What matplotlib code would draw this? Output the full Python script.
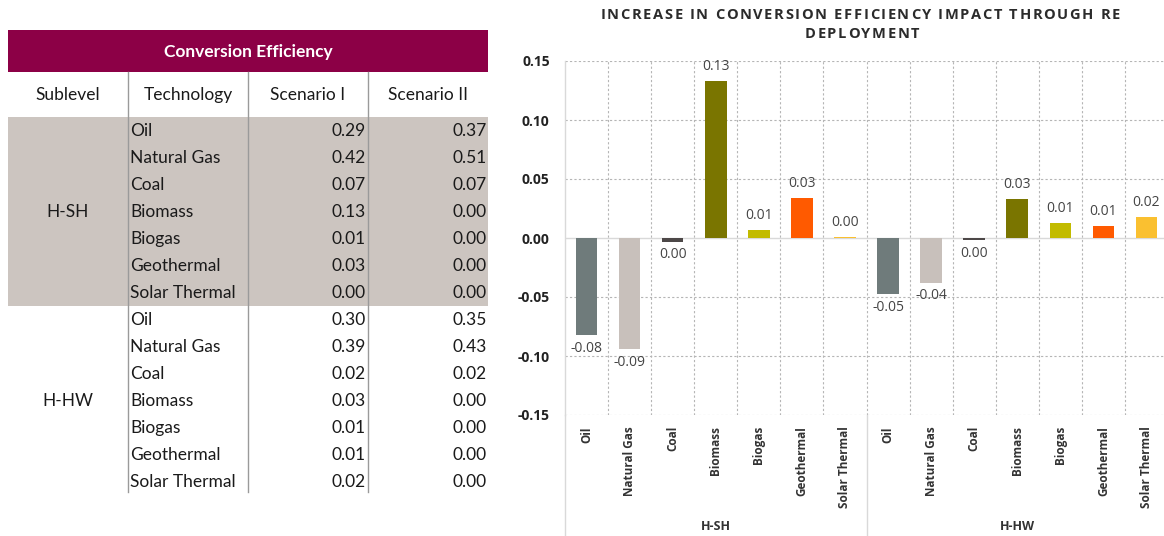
import matplotlib
matplotlib.use("Agg")
import matplotlib.pyplot as plt
import matplotlib.transforms as mtrans
from matplotlib.patches import Rectangle
from matplotlib.font_manager import FontProperties
from matplotlib.textpath import TextToPath

# ---- data ----
technologies = ["Oil", "Natural Gas", "Coal", "Biomass", "Biogas", "Geothermal", "Solar Thermal"]
sublevels = ["H-SH", "H-HW"]
table_header = ["Sublevel", "Technology", "Scenario I", "Scenario II"]
table_title = "Conversion Efficiency"

scenario1_sh = [0.29, 0.42, 0.07, 0.13, 0.01, 0.03, 0.00]
scenario2_sh = [0.37, 0.51, 0.07, 0.00, 0.00, 0.00, 0.00]
scenario1_hw = [0.30, 0.39, 0.02, 0.03, 0.01, 0.01, 0.02]
scenario2_hw = [0.35, 0.43, 0.02, 0.00, 0.00, 0.00, 0.00]

impact_sh = [-0.0825, -0.0944, -0.0030, 0.1330, 0.0068, 0.0339, 0.0008]
impact_hw = [-0.0475, -0.0380, -0.0017, 0.0328, 0.0127, 0.0102, 0.0180]

yticks = [-0.15, -0.10, -0.05, 0.00, 0.05, 0.10, 0.15]
chart_title_lines = ["INCREASE IN CONVERSION EFFICIENCY IMPACT THROUGH RE", "DEPLOYMENT"]

tech_colors = ["#6F7B7B", "#C8C0BB", "#4D4848", "#7A7500", "#C2BB00", "#FF5A00", "#FAC030"]

# ---- figure ----
W, H = 1164, 536
DPI = 100
fig = plt.figure(figsize=(W / DPI, H / DPI), dpi=DPI)
fig.patch.set_facecolor("white")

# pixel-space canvas for the table and the title
tab = fig.add_axes([0, 0, 1, 1])
tab.set_xlim(0, W)
tab.set_ylim(H, 0)
tab.axis("off")

tfont = "Lato"
tx0, tx1 = 8, 488
col_edges = [tx0, 128, 248, 368, tx1]
row_h = 27
first_row = 117.5
ink = "#1a1a1a"

# title bar
tab.add_patch(Rectangle((tx0, 30), tx1 - tx0, 42, facecolor="#8C0046", edgecolor="none"))
tab.text((tx0 + tx1) / 2, 52, table_title, color="white", fontsize=12.5, fontweight="bold",
         family=tfont, ha="center", va="center")

# header row
for i, h in enumerate(table_header):
    tab.text((col_edges[i] + col_edges[i + 1]) / 2, 95, h, fontsize=12.5, family=tfont,
             ha="center", va="center", color=ink)

# shaded band for first sublevel
n = len(technologies)
tab.add_patch(Rectangle((tx0, first_row - 1), tx1 - tx0, n * row_h, facecolor="#CCC5C0",
                        edgecolor="none"))

# vertical separators
for x in col_edges[1:4]:
    tab.plot([x, x], [72, first_row + 2 * n * row_h - 4], color="#9A9A9A", lw=1)

blocks = [(sublevels[0], scenario1_sh, scenario2_sh), (sublevels[1], scenario1_hw, scenario2_hw)]
for b, (name, s1, s2) in enumerate(blocks):
    top = first_row + b * n * row_h
    tab.text((col_edges[0] + col_edges[1]) / 2, top + n * row_h / 2, name, fontsize=12.5,
             family=tfont, ha="center", va="center", color=ink)
    for r, t in enumerate(technologies):
        yc = top + r * row_h + row_h / 2
        tab.text(130, yc, t, fontsize=12.5, family=tfont, ha="left", va="center", color=ink)
        tab.text(366, yc, f"{s1[r]:.2f}", fontsize=12.5, family=tfont, ha="right", va="center",
                 color=ink)
        tab.text(487, yc, f"{s2[r]:.2f}", fontsize=12.5, family=tfont, ha="right", va="center",
                 color=ink)

# ---- letter-spaced chart title ----
title_prop = FontProperties(family="Open Sans", weight="bold", size=10.5)
t2p = TextToPath()
px_per_pt = DPI / 72.0
tracking = 1.7  # extra pixels between characters


def char_width(ch):
    w, _, _ = t2p.get_text_width_height_descent(ch, title_prop, ismath=False)
    return w * px_per_pt


def tracked_line(text, xc, yc):
    widths = [char_width(c) for c in text]
    total = sum(widths) + tracking * (len(text) - 1)
    x = xc - total / 2
    for c, w in zip(text, widths):
        if c != " ":
            tab.text(x, yc, c, fontproperties=title_prop, ha="left", va="center", color="#2b2b2b")
        x += w + tracking


tracked_line(chart_title_lines[0], 860, 15)
tracked_line(chart_title_lines[1], 862, 34)

# ---- bar chart ----
left, right, top_px, bot_px = 565, 1168, 61, 415
ax = fig.add_axes([left / W, 1 - bot_px / H, (right - left) / W, (bot_px - top_px) / H])
ax.set_facecolor("white")

values = impact_sh + impact_hw
colors = tech_colors * 2
labels = technologies * 2
xs = list(range(len(values)))

ax.set_xlim(-0.5, len(values) - 0.5)
ax.set_ylim(-0.15, 0.15)

grid_kw = dict(color="#B5B5B5", lw=0.8, linestyle=(0, (2, 2)), zorder=0)
for y in yticks:
    if y != 0:
        ax.axhline(y, **grid_kw)
for k in range(1, len(values)):
    ax.axvline(k - 0.5, **grid_kw)
ax.axhline(0, color="#D9D9D9", lw=1, zorder=1)

ax.bar(xs, values, width=0.5, color=colors, zorder=2)


def fmt(v):
    s = f"{v:.2f}"
    return "0.00" if s == "-0.00" else s


for x, v in zip(xs, values):
    if v >= 0:
        ax.annotate(fmt(v), (x, v), xytext=(0, 5), textcoords="offset points", ha="center",
                    va="bottom", fontsize=10, family="Open Sans", color="#444444")
    else:
        ax.annotate(fmt(v), (x, v), xytext=(0, -4), textcoords="offset points", ha="center",
                    va="top", fontsize=10, family="Open Sans", color="#444444")

ax.set_yticks(yticks)
ax.set_yticklabels([f"{y:.2f}" for y in yticks], fontsize=10, fontweight="bold", family="Open Sans",
                   color="#222222")
ax.set_xticks(xs)
ax.set_xticklabels(labels, rotation=90, fontsize=8.5, fontweight="bold", family="Open Sans",
                   color="#333333", va="top")
ax.tick_params(axis="both", length=0)
ax.tick_params(axis="y", pad=11)
ax.tick_params(axis="x", pad=8)

for s in ["top", "right", "bottom"]:
    ax.spines[s].set_visible(False)
ax.spines["left"].set_color("#D9D9D9")
ax.spines["left"].set_linewidth(1)

# group separators and labels below the plot
bt = mtrans.blended_transform_factory(ax.transData, ax.transAxes)
for xb in [-0.5, len(technologies) - 0.5]:
    ax.plot([xb, xb], [0, -0.36], transform=bt, color="#D9D9D9", lw=1, clip_on=False)
for g, name in enumerate(sublevels):
    ax.text(g * n + (n - 1) / 2, -0.315, name, transform=bt, ha="center", va="center",
            fontsize=9, fontweight="bold", family="Open Sans", color="#333333")

fig.savefig("out.png", dpi=DPI)
